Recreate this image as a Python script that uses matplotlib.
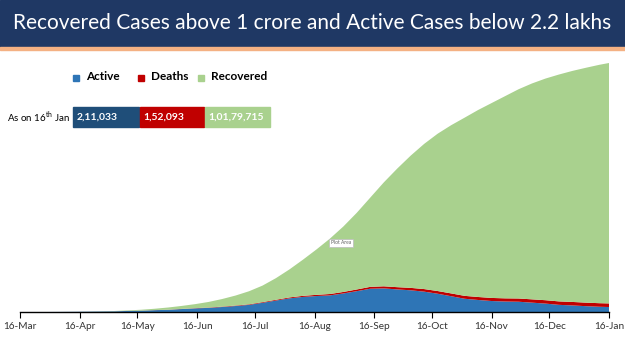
import pandas as pd
import matplotlib.pyplot as plt
import matplotlib.dates as mdates
from matplotlib.patches import Rectangle

# weekly values in lakhs
dates = ['2020-03-16', '2020-03-23', '2020-03-30', '2020-04-06', '2020-04-13',
         '2020-04-20', '2020-04-27', '2020-05-04', '2020-05-11', '2020-05-18',
         '2020-05-25', '2020-06-01', '2020-06-08', '2020-06-15', '2020-06-22',
         '2020-06-29', '2020-07-06', '2020-07-13', '2020-07-20', '2020-07-27',
         '2020-08-03', '2020-08-10', '2020-08-17', '2020-08-24', '2020-08-31',
         '2020-09-07', '2020-09-14', '2020-09-21', '2020-09-28', '2020-10-05',
         '2020-10-12', '2020-10-19', '2020-10-26', '2020-11-02', '2020-11-09',
         '2020-11-16', '2020-11-23', '2020-11-30', '2020-12-07', '2020-12-14',
         '2020-12-21', '2020-12-28', '2021-01-04', '2021-01-11', '2021-01-16']
total = [0.001, 0.005, 0.013, 0.047, 0.099, 0.177, 0.279, 0.424, 0.672, 0.962,
         1.38, 1.91, 2.57, 3.33, 4.26, 5.49, 6.97, 8.79, 11.18, 14.35,
         18.04, 22.15, 26.47, 31.06, 36.21, 42.04, 48.46, 54.87, 60.74, 66.23,
         71.20, 75.50, 79.09, 82.29, 85.53, 88.46, 91.39, 94.31, 96.77, 98.84,
         100.55, 102.08, 103.41, 104.67, 105.43]
active = [0.001, 0.004, 0.011, 0.040, 0.083, 0.141, 0.206, 0.290, 0.442, 0.563,
          0.773, 0.933, 1.25, 1.53, 1.75, 2.11, 2.53, 3.02, 3.90, 4.85,
          5.79, 6.39, 6.76, 7.04, 7.85, 8.83, 9.86, 10.0, 9.56, 9.19,
          8.61, 7.73, 6.68, 5.61, 5.09, 4.65, 4.44, 4.35, 3.96, 3.56,
          3.03, 2.78, 2.47, 2.22, 2.11]
deaths = [0.0, 0.0001, 0.0003, 0.0013, 0.0034, 0.0056, 0.0088, 0.014, 0.022, 0.030,
          0.041, 0.054, 0.072, 0.095, 0.135, 0.166, 0.198, 0.233, 0.279, 0.328,
          0.382, 0.445, 0.509, 0.578, 0.645, 0.716, 0.795, 0.878, 0.955, 1.025,
          1.095, 1.147, 1.191, 1.226, 1.268, 1.304, 1.34, 1.37, 1.40, 1.435,
          1.46, 1.478, 1.497, 1.51, 1.52]
recovered = [t - a - d for t, a, d in zip(total, active, deaths)]

tick_dates = ['2020-03-16', '2020-04-16', '2020-05-16', '2020-06-16', '2020-07-16',
              '2020-08-16', '2020-09-16', '2020-10-16', '2020-11-16', '2020-12-16',
              '2021-01-16']
box_labels = ['2,11,033', '1,52,093', '1,01,79,715']
series = ['Active', 'Deaths', 'Recovered']
colors = ['#2e75b6', '#c00000', '#a9d18e']
box_colors = ['#1f4e79', '#c00000', '#a9d18e']

x = pd.to_datetime(dates)

fig = plt.figure(figsize=(6.25, 3.51), dpi=100)
plt.rcParams['font.family'] = ['Lato', 'DejaVu Sans']

# title banner
fig.patches.append(Rectangle((0, 1 - 47 / 351), 1, 47 / 351, transform=fig.transFigure,
                             color='#1f3864', zorder=0))
fig.patches.append(Rectangle((0, 1 - 50 / 351), 1, 3 / 351, transform=fig.transFigure,
                             color='#f4b183', zorder=0))
fig.text(0.5, 1 - 23 / 351, 'Recovered Cases above 1 crore and Active Cases below 2.2 lakhs',
         color='white', fontsize=15, ha='center', va='center')

ax = fig.add_axes([20 / 625, 39 / 351, 589 / 625, 249 / 351])
ax.stackplot(x, active, deaths, recovered, colors=colors, linewidth=0)
ax.set_xlim(x[0], x[-1])
ax.set_ylim(0, max(total))

ax.set_xticks(pd.to_datetime(tick_dates))
ax.xaxis.set_major_formatter(mdates.DateFormatter('%d-%b'))
ax.tick_params(axis='x', direction='out', length=4, labelsize=7.2, labelcolor='#333333',
               color='black', pad=3.5)
ax.set_yticks([])
for s in ['top', 'left', 'right']:
    ax.spines[s].set_visible(False)
ax.spines['bottom'].set_linewidth(1)

# legend
leg_x = [73, 138, 198]
for i, name in enumerate(series):
    fig.patches.append(Rectangle((leg_x[i] / 625, 1 - 81 / 351), 6 / 625, 6 / 351,
                                 transform=fig.transFigure, color=colors[i]))
    fig.text((leg_x[i] + 13) / 625, 1 - 77 / 351, name, fontsize=8.5, fontweight='bold',
             color='black', va='center')

# value boxes
box_x = [73, 139.5, 204.5]
box_w = [66, 64.5, 65.5]
for i in range(3):
    fig.patches.append(Rectangle((box_x[i] / 625, 1 - 127 / 351), box_w[i] / 625, 20 / 351,
                                 transform=fig.transFigure, color=box_colors[i]))
    fig.text((box_x[i] + 4) / 625, 1 - 117 / 351, box_labels[i], fontsize=7.5,
             fontweight='bold', color='white', va='center')
fig.text(7 / 625, 1 - 117 / 351, r'As on 16$^{\mathregular{th}}$ Jan', fontsize=7,
         color='black', va='center')

fig.text(331 / 625, 1 - 243 / 351, 'Plot Area', fontsize=3.5, color='#606060', va='center',
         bbox=dict(boxstyle='square,pad=0.4', fc='white', ec='#bbbbbb', lw=0.5))

fig.savefig('out.png', dpi=100)
